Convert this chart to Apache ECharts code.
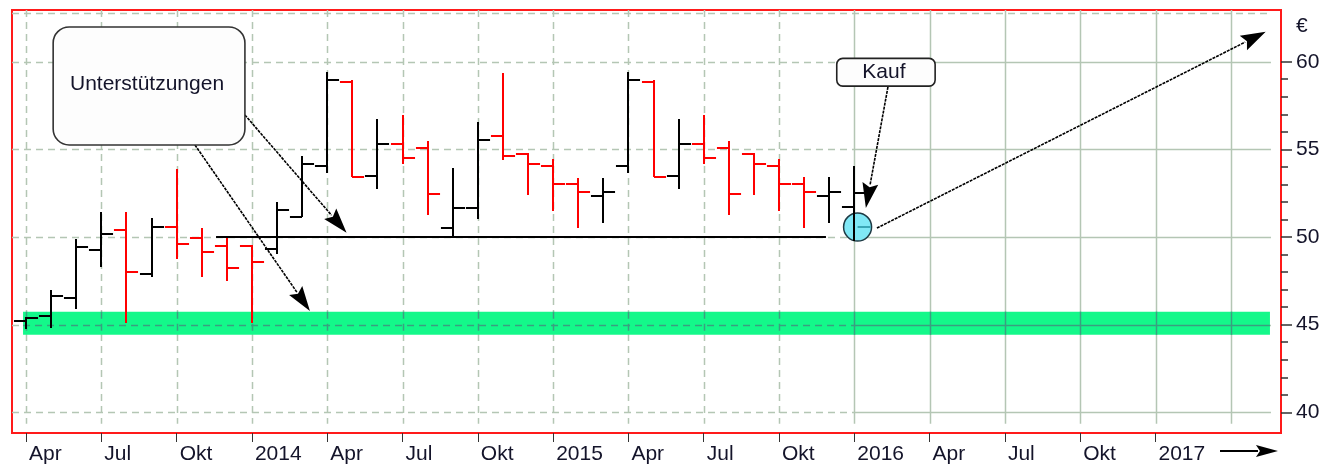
<!DOCTYPE html>
<html><head><meta charset="utf-8">
<script src="https://cdn.jsdelivr.net/npm/echarts@6/dist/echarts.min.js"></script>
<style>html,body{margin:0;padding:0;background:#fff}#c{width:1324px;height:465px}</style>
</head><body><div id="c"></div>
<script>
// ---- data (monthly OHLC) ----
const months = ['2013-04','2013-05','2013-06','2013-07','2013-08','2013-09','2013-10','2013-11','2013-12',
  '2014-01','2014-02','2014-03','2014-04','2014-05','2014-06','2014-07','2014-08','2014-09','2014-10','2014-11','2014-12',
  '2015-01','2015-02','2015-03','2015-04','2015-05','2015-06','2015-07','2015-08','2015-09','2015-10','2015-11','2015-12',
  '2016-01'];
const open  = [45.2,45.51,46.5,49.26,50.4,47.87,50.59,49.93,49.49, 49.49,49.3,51.16,54.05,58.86,53.48,55.29,55.06,50.5,51.67,55.76,54.72, 54.05,53.01,52.34,54.05,58.86,53.48,55.29,55.06,54.72,54.05,53.01,52.36, 51.69];
const high  = [45.45,46.98,49.87,51.44,51.44,51.1,53.86,50.53,50.02, 49.52,52.01,54.64,59.43,58.96,56.71,56.96,55.48,53.95,56.58,59.34,54.81, 54.43,53.38,53.38,59.43,58.96,56.71,56.96,55.48,54.81,54.43,53.44,53.4, 54.05];
const low   = [44.75,44.79,45.89,48.31,45.11,47.74,48.74,47.74,47.51, 45.11,49.01,51.16,53.67,53.44,52.74,54.15,51.25,50.02,51.01,54.39,52.4, 51.48,50.5,50.82,53.67,53.44,52.74,54.15,51.25,52.4,51.48,50.5,50.82, 49.79];
const close = [45.37,46.65,49.45,50.15,47.99,50.59,49.58,49.13,48.25, 48.56,51.54,54.15,58.96,53.44,55.29,54.49,52.44,51.67,55.53,54.62,54.15, 53.01,52.55,52.55,58.96,53.44,55.29,54.49,52.44,54.15,53.01,52.58,52.55, 52.5];

// ---- axes ----
const quarterMonths = ['2013-04','2013-07','2013-10','2014-01','2014-04','2014-07','2014-10','2015-01',
  '2015-04','2015-07','2015-10','2016-01','2016-04','2016-07','2016-10','2017-01'];
const quarterLabels = ['Apr','Jul','Okt','2014','Apr','Jul','Okt','2015','Apr','Jul','Okt','2016','Apr','Jul','Okt','2017'];
const gridMonths = quarterMonths.concat(['2017-04']);
const solidFromMonth = '2016-01';
const yTickValues = [40,45,50,55,60];
const yMinorTickValues = [41,42,43,44,46,47,48,49,51,52,53,54,56,57,58,59];
const xRange = [2.44, 53.0];      // month index (0 = Jan 2013)
const yRange = [38.82, 62.95];    // €
const topRuleValue = 62.8;

// ---- annotations (month index, €) ----
const supportLine = [[10.57, 50.0], [34.87, 50.0]];
const supportBand = [[2.88, 45.74], [52.56, 44.42]];
const calloutSupportBox = [[4.08, 61.98], [11.72, 55.25]];
const calloutSupportText = 'Unterstützungen';
const calloutBuyBox = [[35.3, 60.19], [39.22, 58.61]];
const calloutBuyText = 'Kauf';
const arrowFrom = [[11.72, 56.96], [9.73, 55.25], [37.34, 58.56], [36.9, 50.51]];
const arrowTo   = [[15.77, 50.25], [14.31, 45.78], [36.46, 51.66], [52.39, 61.71]];
const buyPoint = [36.13, 50.57];
const euroLabelPos = [53.6, 62.05];
const timeArrow = [[50.57, 37.79], [52.88, 37.79]];

const FONT = '21px "Liberation Sans", Arial, sans-serif';
const TEXT_COLOR = '#14142a';
const GRID_COLOR = '#b4c6b4';
const GRID_ON_BAND = '#3a9f80';

function mIdx(s){ const [y,m] = s.split('-').map(Number); return (y-2013)*12 + (m-1); }
const quarterPos = quarterMonths.map(mIdx);
const solidFrom = mIdx(solidFromMonth);

const barData = months.map((m,i)=>[mIdx(m), open[i], high[i], low[i], close[i]]);

function r(v){ return Math.round(v); }

function renderBar(params, api){
  const x = api.value(0), o = api.value(1), h = api.value(2), l = api.value(3), c = api.value(4);
  const pH = api.coord([x,h]), pL = api.coord([x,l]), pO = api.coord([x,o]), pC = api.coord([x,c]);
  const w = api.size([0.48, 0])[0];
  const col = c >= o ? '#000000' : '#ff0000';
  const st = {stroke: col, lineWidth: 2};
  const X = r(pH[0]);
  return {type:'group', children:[
    {type:'line', shape:{x1:X, y1:r(pH[1]), x2:X, y2:r(pL[1])}, style:st},
    {type:'line', shape:{x1:X - w, y1:r(pO[1]), x2:X, y2:r(pO[1])}, style:st},
    {type:'line', shape:{x1:X, y1:r(pC[1]), x2:X + w, y2:r(pC[1])}, style:st}
  ]};
}

function vLine(api, x, vTop, vBot, color){
  const p0 = api.coord([x, vTop]), p1 = api.coord([x, vBot]);
  const X = Math.round(p0[0]) + 0.5;
  const dashed = x < solidFrom;
  return {type:'line', shape:{x1:X, y1:p0[1], x2:X, y2:p1[1]},
    style:{stroke: color, lineWidth: 1.5, lineDash: dashed ? [7,5] : null}};
}
function hLines(api, v, x0, x1, color, allDashed){
  const a = api.coord([x0, v]), b = api.coord([Math.max(x0, Math.min(x1, solidFrom)), v]), e = api.coord([x1, v]);
  const Y = Math.round(a[1]) + 0.5;
  if (allDashed) return [{type:'line', shape:{x1:a[0], y1:Y, x2:e[0], y2:Y}, style:{stroke:color, lineWidth:1.5, lineDash:[7,5]}}];
  return [
    {type:'line', shape:{x1:a[0], y1:Y, x2:b[0], y2:Y}, style:{stroke:color, lineWidth:1.5, lineDash:[7,5]}},
    {type:'line', shape:{x1:b[0], y1:Y, x2:e[0], y2:Y}, style:{stroke:color, lineWidth:1.5}}
  ];
}
function renderVGrid(params, api){
  return vLine(api, api.value(0), yRange[1], 39.35, GRID_COLOR);
}
function renderHGrid(params, api){
  const v = api.value(1);
  return {type:'group', children: hLines(api, v, xRange[0], 52.6, GRID_COLOR, v === topRuleValue)};
}
function renderBand(params, api){
  const a = api.coord(supportBand[0]), b = api.coord(supportBand[1]);
  return {type:'rect', shape:{x:a[0], y:a[1], width:b[0]-a[0], height:b[1]-a[1]},
    style:{fill:'#14f88a'}};
}
// grid lines seen through the band (darker)
function renderBandGrid(params, api){
  const ch = [];
  gridMonths.forEach(m => {
    const x = mIdx(m);
    if (x >= supportBand[0][0] && x <= supportBand[1][0]) ch.push(vLine(api, x, supportBand[0][1], supportBand[1][1], GRID_ON_BAND));
  });
  yTickValues.forEach(v => {
    if (v <= supportBand[0][1] && v >= supportBand[1][1]) hLines(api, v, supportBand[0][0], supportBand[1][0], GRID_ON_BAND, false).forEach(e=>ch.push(e));
  });
  return {type:'group', children:ch};
}
function renderCircle(params, api){
  const c = api.coord(buyPoint);
  const R = 14;
  return {type:'group', children:[
    {type:'circle', shape:{cx:c[0], cy:c[1], r:R}, style:{fill:'#80e8f6', stroke:'#1e3a44', lineWidth:1.5}},
    {type:'line', shape:{x1:c[0], y1:c[1], x2:c[0]+R-1, y2:c[1]}, style:{stroke:'#3aa6b6', lineWidth:2}}
  ]};
}
function arrow(p0, p1, headLen, headHalf, lw, dash){
  const dx = p1[0]-p0[0], dy = p1[1]-p0[1], len = Math.hypot(dx,dy), ux = dx/len, uy = dy/len;
  const bx = p1[0]-ux*headLen, by = p1[1]-uy*headLen;
  return [
    {type:'line', shape:{x1:p0[0], y1:p0[1], x2:bx+ux*2, y2:by+uy*2}, style:{stroke:'#000', lineWidth:lw, lineDash:dash}},
    {type:'polygon', shape:{points:[[p1[0],p1[1]],[bx-uy*headHalf, by+ux*headHalf],[bx+ux*4, by+uy*4],[bx+uy*headHalf, by-ux*headHalf]]}, style:{fill:'#000'}}
  ];
}
function textEl(txt, x, y, align){
  return {type:'text', style:{text:txt, x:x, y:y, font:FONT, fill:TEXT_COLOR,
    align:align||'center', verticalAlign:'middle', textAlign:align||'center', textVerticalAlign:'middle'}};
}
function renderAnno(params, api){
  const ch = [];
  const s0 = api.coord(supportLine[0]), s1 = api.coord(supportLine[1]);
  ch.push({type:'line', shape:{x1:s0[0], y1:Math.round(s0[1]), x2:s1[0], y2:Math.round(s1[1])}, style:{stroke:'#000', lineWidth:2}});
  for (let i = 0; i < arrowFrom.length; i++) {
    arrow(api.coord(arrowFrom[i]), api.coord(arrowTo[i]), 25, 8, 1.6, [3,1]).forEach(e=>ch.push(e));
  }
  const b0 = api.coord(calloutSupportBox[0]), b1 = api.coord(calloutSupportBox[1]);
  ch.push({type:'rect', shape:{x:b0[0], y:b0[1], width:b1[0]-b0[0], height:b1[1]-b0[1], r:16},
    style:{fill:'#fdfdfd', stroke:'#333', lineWidth:1.6}});
  ch.push(textEl(calloutSupportText, (b0[0]+b1[0])/2 - 2, (b0[1]+b1[1])/2 - 2));
  const k0 = api.coord(calloutBuyBox[0]), k1 = api.coord(calloutBuyBox[1]);
  ch.push({type:'rect', shape:{x:k0[0], y:k0[1], width:k1[0]-k0[0], height:k1[1]-k0[1], r:6},
    style:{fill:'#fdfdfd', stroke:'#222', lineWidth:1.6}});
  ch.push(textEl(calloutBuyText, (k0[0]+k1[0])/2 - 2, (k0[1]+k1[1])/2));
  const eu = api.coord(euroLabelPos);
  ch.push(textEl('€', eu[0], eu[1], 'left'));
  const t0 = api.coord(timeArrow[0]), t1 = api.coord(timeArrow[1]);
  arrow(t0, t1, 22, 6, 2, null).forEach(e=>ch.push(e));
  return {type:'group', children:ch};
}

const chart = echarts.init(document.getElementById('c'), null, {renderer:'canvas'});
chart.setOption({
  animation:false,
  backgroundColor:'#ffffff',
  grid:{left:12, right:43, top:10, bottom:32, show:true, borderColor:'#ff1a1a', borderWidth:2, backgroundColor:'#ffffff'},
  xAxis:{type:'value', min:xRange[0], max:xRange[1],
    axisLine:{show:false}, splitLine:{show:false},
    axisTick:{show:true, customValues:quarterPos, length:9, lineStyle:{color:'#333', width:1}},
    axisLabel:{customValues:quarterPos, formatter:(v)=>quarterLabels[quarterPos.indexOf(Math.round(v))] || '',
      align:'left', padding:[0,0,0,3], margin:11, fontSize:21, fontFamily:'"Liberation Sans", Arial, sans-serif', color:TEXT_COLOR}},
  yAxis:[
    {type:'value', position:'right', min:yRange[0], max:yRange[1],
      axisLine:{show:false}, splitLine:{show:false},
      axisTick:{show:true, customValues:yTickValues, length:11, lineStyle:{color:'#333', width:1.5}},
      axisLabel:{customValues:yTickValues, margin:15, align:'left', padding:[2,0,0,0], fontSize:21, fontFamily:'"Liberation Sans", Arial, sans-serif', color:TEXT_COLOR}},
    {type:'value', position:'right', min:yRange[0], max:yRange[1],
      axisLine:{show:false}, splitLine:{show:false},
      axisTick:{show:true, customValues:yMinorTickValues, length:7, lineStyle:{color:'#333', width:1.5}},
      axisLabel:{show:false}}
  ],
  series:[
    {type:'custom', name:'vgrid', z:1, silent:true, renderItem:renderVGrid, data:gridMonths.map(m=>[mIdx(m), 50]), encode:{x:0,y:1}},
    {type:'custom', name:'hgrid', z:1, silent:true, renderItem:renderHGrid, data:yTickValues.concat([topRuleValue]).map(v=>[10, v]), encode:{x:0,y:1}},
    {type:'custom', name:'band', z:2, silent:true, renderItem:renderBand, data:[[supportBand[0][0], supportBand[0][1]]], encode:{x:0,y:1}},
    {type:'custom', name:'bandGrid', z:2.5, silent:true, renderItem:renderBandGrid, data:[[supportBand[0][0], 45]], encode:{x:0,y:1}},
    {type:'custom', name:'circle', z:3, silent:true, renderItem:renderCircle, data:[buyPoint], encode:{x:0,y:1}},
    {type:'custom', name:'ohlc', z:4, silent:true, renderItem:renderBar, data:barData, encode:{x:0, y:[1,2,3,4]}},
    {type:'custom', name:'anno', z:5, silent:true, renderItem:renderAnno, data:[[10,50]], encode:{x:0,y:1}}
  ]
});
</script></body></html>
